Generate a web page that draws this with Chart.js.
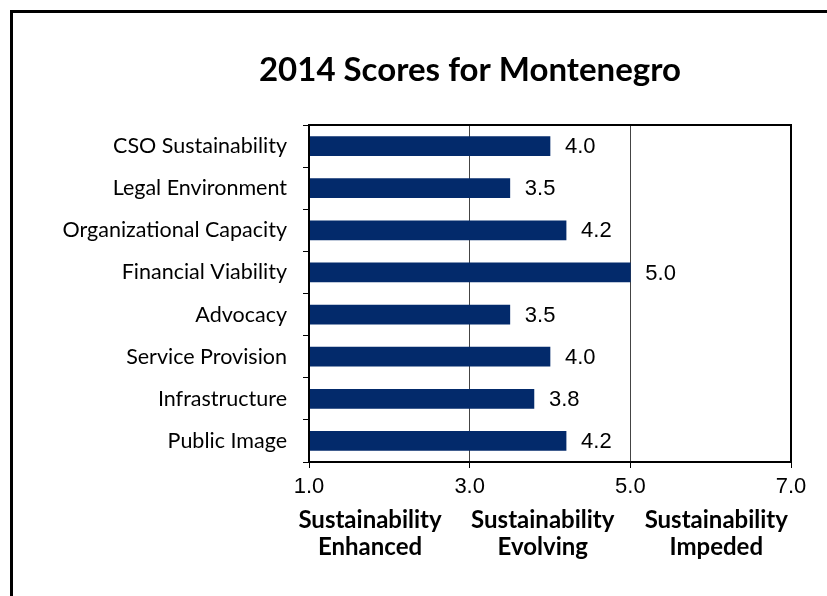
<!DOCTYPE html>
<html>
<head>
<meta charset="utf-8">
<script src="https://cdn.jsdelivr.net/npm/chart.js@4/dist/chart.umd.min.js"></script>
<style>
  html, body { margin: 0; padding: 0; background: #fff; overflow: hidden; }
  canvas { display: block; }
</style>
</head>
<body>
<canvas id="chart" width="827" height="596"></canvas>
<script>
const categories = [
  "CSO Sustainability",
  "Legal Environment",
  "Organizational Capacity",
  "Financial Viability",
  "Advocacy",
  "Service Provision",
  "Infrastructure",
  "Public Image"
];
const scores = [4.0, 3.5, 4.2, 5.0, 3.5, 4.0, 3.8, 4.2];
const xTicks = [1, 3, 5, 7];
const bandLabels = [
  ["Sustainability", "Enhanced"],
  ["Sustainability", "Evolving"],
  ["Sustainability", "Impeded"]
];
// where each band caption sits along the score axis
const bandCenters = [1.76, 3.91, 6.07];

const BAR = "#032a6b";

// outer frame, plot box, value labels and band captions
const extras = {
  id: "extras",
  beforeDraw(chart) {
    const ctx = chart.ctx;
    ctx.save();
    ctx.strokeStyle = "#000";
    ctx.lineWidth = 3;
    ctx.strokeRect(11.5, 11.5, 900, 700);
    ctx.restore();
  },
  afterDatasetsDraw(chart) {
    const ctx = chart.ctx;
    const a = chart.chartArea;
    ctx.save();
    ctx.strokeStyle = "#000";
    ctx.lineWidth = 2;
    ctx.strokeRect(a.left, a.top, a.right - a.left, a.bottom - a.top);

    ctx.fillStyle = "#000";
    ctx.font = "22px 'Liberation Sans', Arial, sans-serif";
    ctx.textAlign = "left";
    ctx.textBaseline = "middle";
    chart.getDatasetMeta(0).data.forEach((bar, i) => {
      ctx.fillText(scores[i].toFixed(1), bar.x + 15, bar.y + 1);
    });

    const xs = chart.scales.x;
    ctx.font = "bold 24px Lato, 'Noto Sans', sans-serif";
    ctx.textAlign = "center";
    bandLabels.forEach((lines, i) => {
      const cx = xs.getPixelForValue(bandCenters[i]);
      lines.forEach((t, j) => ctx.fillText(t, cx, 520 + j * 27));
    });
    ctx.restore();
  }
};

new Chart(document.getElementById("chart"), {
  type: "bar",
  data: {
    labels: categories,
    datasets: [{
      data: scores,
      backgroundColor: BAR,
      borderWidth: 0,
      barThickness: 19
    }]
  },
  options: {
    indexAxis: "y",
    responsive: false,
    animation: false,
    events: [],
    layout: { padding: { left: 0, top: 125, right: 36, bottom: 54 } },
    plugins: {
      legend: { display: false },
      tooltip: { enabled: false },
      title: {
        display: false
      }
    },
    scales: {
      x: {
        min: 1,
        max: 7,
        afterBuildTicks(scale) {
          scale.ticks = xTicks.map(v => ({ value: v }));
        },
        afterFit(scale) { scale.height = 80; },
        border: { display: true, color: "#000", width: 2 },
        grid: {
          color: "#444",
          lineWidth: 1,
          tickLength: 6,
          tickColor: "#000",
          drawOnChartArea: true
        },
        ticks: {
          color: "#000",
          padding: 6,
          maxRotation: 0,
          font: { family: "'Liberation Sans', Arial, sans-serif", size: 22 },
          callback: v => Number(v).toFixed(1)
        }
      },
      y: {
        afterFit(scale) { scale.width = 309; },
        border: { display: true, color: "#000", width: 2 },
        grid: {
          offset: true,
          drawOnChartArea: false,
          tickLength: 6,
          color: "#000"
        },
        ticks: {
          color: "#000",
          padding: 16,
          font: { family: "Lato, 'Noto Sans', sans-serif", size: 21.5 }
        }
      }
    }
  },
  plugins: [extras, {
    id: "heading",
    afterDraw(chart) {
      const ctx = chart.ctx;
      ctx.save();
      ctx.fillStyle = "#000";
      ctx.font = "bold 33px Lato, 'Noto Sans', sans-serif";
      ctx.textAlign = "center";
      ctx.textBaseline = "middle";
      ctx.fillText("2014 Scores for Montenegro", 470, 70);
      ctx.restore();
    }
  }]
});
</script>
</body>
</html>
